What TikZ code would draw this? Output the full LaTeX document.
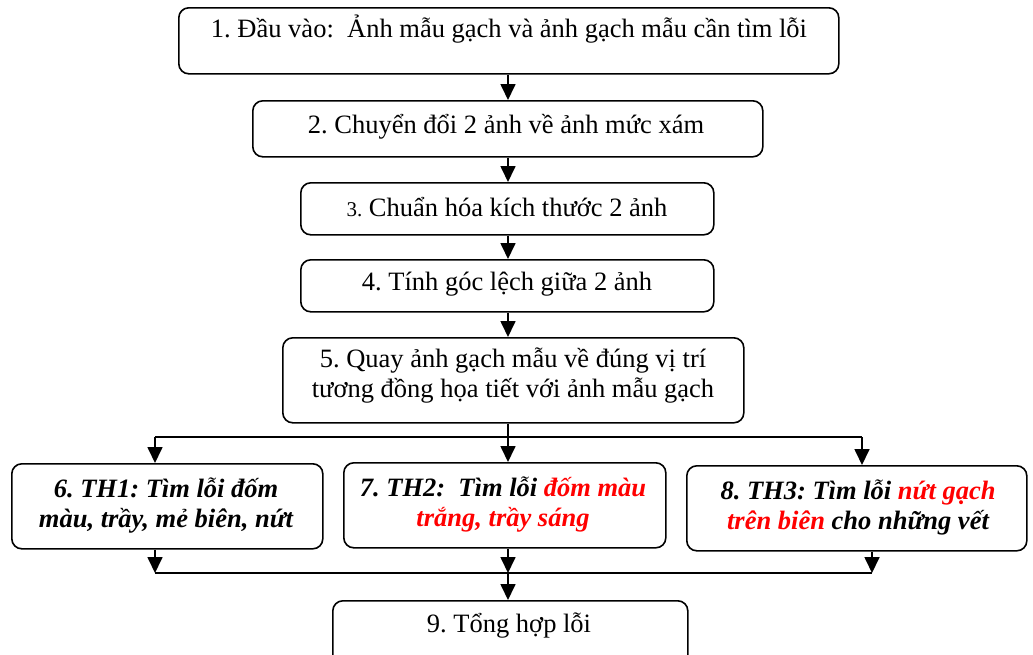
\documentclass[tikz,border=0pt]{standalone}
\usepackage{fontspec}
\setmainfont{Liberation Serif}
\usetikzlibrary{arrows.meta}
\definecolor{errred}{RGB}{255,0,0}
\tikzset{
  box/.style={draw, line width=1.6pt, rounded corners=10pt, anchor=north west, inner sep=0pt},
  txt/.style={anchor=base, inner sep=0pt, font=\fontsize{26.5}{29.5}\selectfont},
  btxt/.style={txt, font=\fontsize{26.5}{29.5}\selectfont\bfseries\itshape},
  link/.style={line width=1.7pt, -{Triangle[width=15pt,length=16pt]}},
  wire/.style={line width=1.7pt},
}
\newcommand{\rd}[1]{\textcolor{errred}{#1}}
\frenchspacing
\begin{document}
\begin{tikzpicture}[x=1pt,y=-1pt]
\useasboundingbox (0,0) rectangle (1033,654);

% process boxes (corner, width, height in px)
\node[box, minimum width=660, minimum height=66] (b1) at (178,7) {};
\node[box, minimum width=510, minimum height=56] (b2) at (252,100) {};
\node[box, minimum width=413, minimum height=52] (b3) at (300,182) {};
\node[box, minimum width=413, minimum height=52] (b4) at (300,259) {};
\node[box, minimum width=461, minimum height=85] (b5) at (282,337) {};
\node[box, minimum width=311, minimum height=85] (b6) at (11,463) {};
\node[box, minimum width=322, minimum height=85] (b7) at (343,462) {};
\node[box, minimum width=340, minimum height=85] (b8) at (686,465) {};
\node[box, minimum width=355, minimum height=70] (b9) at (332,600) {};

% texts
\node[txt] (t1) at (509,37) {1. Đầu vào:\ \ Ảnh mẫu gạch và ảnh gạch mẫu cần tìm lỗi};
\node[txt] (t2) at (506,133) {2. Chuyển đổi 2 ảnh về ảnh mức xám};
\node[txt] (t3) at (507,216) {{\fontsize{21}{24}\selectfont 3.} Chuẩn hóa kích thước 2 ảnh};
\node[txt] (t4) at (507,290) {4. Tính góc lệch giữa 2 ảnh};
\node[txt] (t5a) at (513,367) {5. Quay ảnh gạch mẫu về đúng vị trí};
\node[txt] (t5b) at (513,397) {tương đồng họa tiết với ảnh mẫu gạch};
\node[btxt] (t6a) at (166,497) {6. TH1: Tìm lỗi đốm};
\node[btxt] (t6b) at (166,527) {màu, trầy, mẻ biên, nứt};
\node[btxt] (t7a) at (503,496) {7. TH2:\ \ Tìm lỗi \rd{đốm màu}};
\node[btxt] (t7b) at (503,526) {\rd{trắng, trầy sáng}};
\node[btxt] (t8a) at (858,499) {8. TH3: Tìm lỗi \rd{nứt gạch}};
\node[btxt] (t8b) at (858,529) {\rd{trên biên} cho những vết};
\node[txt] (t9) at (509,632) {9. Tổng hợp lỗi};

% junction points
\coordinate (sl) at (155,437);
\coordinate (sr) at (862,437);
\coordinate (jl) at (155,573);
\coordinate (jm) at (508,573);
\coordinate (jr) at (872,573);

% straight chain
\draw[link] (b1.south -| 508,0) -- (b2.north -| 508,0);
\draw[link] (b2.south -| 508,0) -- (b3.north -| 508,0);
\draw[link] (b3.south -| 508,0) -- (b4.north -| 508,0);
\draw[link] (b4.south -| 508,0) -- (b5.north -| 508,0);

% split into the three cases
\draw[wire] (sl) -- (sr);
\draw[link] (b5.south -| 508,0) -- (b7.north -| 508,0);
\draw[link] (sl) -- (b6.north -| sl);
\draw[link] (sr) -- (b8.north -| sr);

% merge of the three cases
\draw[link] (b6.south -| jl) -- (jl);
\draw[link] (b7.south -| jm) -- (jm);
\draw[link] (b8.south -| jr) -- (jr);
\draw[wire] (jl) -- (jr);
\draw[link] (jm) -- (b9.north -| jm);
\end{tikzpicture}
\end{document}
